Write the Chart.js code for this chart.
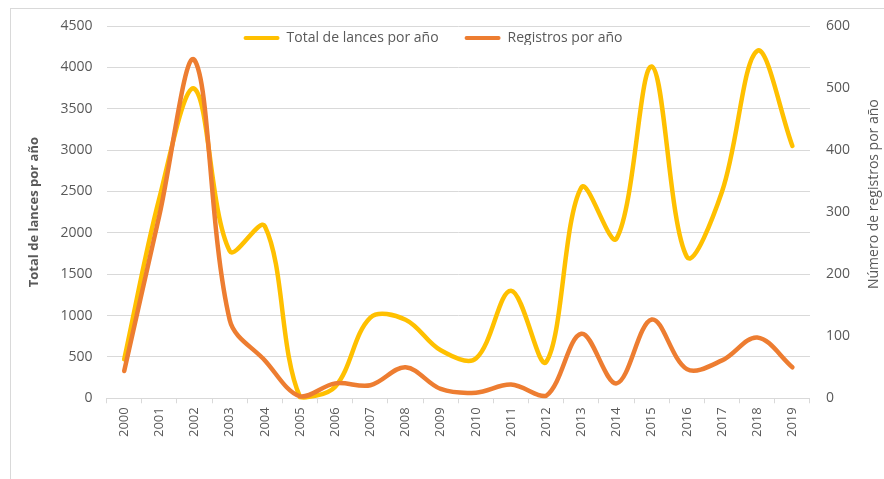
<!DOCTYPE html>
<html>
<head>
<meta charset="utf-8">
<script src="https://cdn.jsdelivr.net/npm/chart.js@4/dist/chart.umd.min.js"></script>
<style>
    body { margin: 0; overflow: hidden; background: #fff; }
    #frame {
        position: absolute; left: 10px; top: 8px; width: 1000px; height: 1000px;
        border-left: 1px solid #d9d9d9; border-top: 1px solid #d9d9d9;
    }
    #wrap { position: absolute; left: 0; top: 0; width: 884px; height: 479px; }
</style>
</head>
<body>
<div id="frame"></div>
<div id="wrap"><canvas id="chart"></canvas></div>
<script>
const years = ['2000', '2001', '2002', '2003', '2004', '2005', '2006', '2007', '2008', '2009',
               '2010', '2011', '2012', '2013', '2014', '2015', '2016', '2017', '2018', '2019'];
const totalLances = [470, 2420, 3740, 1780, 2080, 15, 140, 975, 950, 580,
                     480, 1300, 440, 2550, 1930, 4010, 1710, 2500, 4200, 3050];
const registros = [44, 295, 545, 126, 61, 3, 24, 21, 50, 15,
                   9, 22, 4, 104, 24, 127, 47, 61, 98, 50];

const leftMax = 4500, leftStep = 500;
const rightMax = 600, rightStep = 100;

const font = 'Open Sans';
const grey = '#595959';
const gridColor = '#d9d9d9';

// the legend sits inside the plot, like in the original: let it draw below its tiny layout box
const legendInside = {
    id: 'legendInside',
    beforeDraw(chart) {
        const lg = chart.legend;
        lg.height = 40;
        lg.bottom = lg.top + 40;
        lg.left -= 10;
        lg.right -= 10;
    }
};

// right axis title reads bottom-to-top, so draw it here
const rightTitle = {
    id: 'rightTitle',
    afterDraw(chart) {
        const ctx = chart.ctx;
        const area = chart.chartArea;
        ctx.save();
        ctx.translate(area.right + 64, (area.top + area.bottom) / 2 - 18);
        ctx.rotate(-Math.PI / 2);
        ctx.textAlign = 'center';
        ctx.textBaseline = 'middle';
        ctx.font = '14px "' + font + '"';
        ctx.fillStyle = grey;
        ctx.fillText('Número de registros por año', 0, 0);
        ctx.restore();
    }
};

new Chart(document.getElementById('chart').getContext('2d'), {
    type: 'line',
    data: {
        labels: years,
        datasets: [{
            label: 'Total de lances por año',
            data: totalLances,
            borderColor: '#FFC000',
            backgroundColor: '#FFC000',
            borderWidth: 4.5,
            tension: 0.35,
            pointRadius: 0,
            borderCapStyle: 'round',
            yAxisID: 'y',
            order: 1,
            clip: 6
        }, {
            label: 'Registros por año',
            data: registros,
            borderColor: '#ED7D31',
            backgroundColor: '#ED7D31',
            borderWidth: 4.5,
            tension: 0.35,
            pointRadius: 0,
            borderCapStyle: 'round',
            yAxisID: 'y1',
            order: 0,
            clip: 6
        }]
    },
    options: {
        responsive: true,
        maintainAspectRatio: false,
        animation: false,
        layout: {
            padding: { top: 5, left: 20, right: 18, bottom: 38 }
        },
        plugins: {
            legend: {
                position: 'top',
                maxHeight: 21,
                labels: {
                    boxWidth: 36,
                    boxHeight: 4,
                    padding: 26,
                    color: grey,
                    font: { family: font, size: 14 },
                    useBorderRadius: true,
                    borderRadius: 2,
                    sort: (a, b) => a.datasetIndex - b.datasetIndex,
                    generateLabels: chart => Chart.defaults.plugins.legend.labels.generateLabels(chart)
                        .map(item => Object.assign(item, { lineWidth: 0 }))
                }
            },
            tooltip: { enabled: false }
        },
        scales: {
            x: {
                offset: true,
                grid: {
                    display: true,
                    drawOnChartArea: false,
                    offset: true,
                    tickLength: 5,
                    color: gridColor
                },
                border: { color: gridColor },
                ticks: {
                    minRotation: 90,
                    maxRotation: 90,
                    padding: 4,
                    color: grey,
                    font: { family: font, size: 13 }
                }
            },
            y: {
                position: 'left',
                min: 0,
                max: leftMax,
                ticks: {
                    stepSize: leftStep,
                    padding: 14,
                    color: grey,
                    font: { family: font, size: 14 },
                    callback: v => String(v)
                },
                grid: { color: gridColor, drawTicks: false },
                border: { display: false },
                title: {
                    display: true,
                    text: 'Total de lances por año',
                    color: grey,
                    font: { family: font, size: 13, weight: 'bold' },
                    padding: { top: 6, bottom: 5 }
                }
            },
            y1: {
                position: 'right',
                min: 0,
                max: rightMax,
                ticks: {
                    stepSize: rightStep,
                    padding: 16,
                    color: grey,
                    font: { family: font, size: 14 },
                    callback: v => String(v)
                },
                grid: { drawOnChartArea: false, drawTicks: false },
                border: { display: false }
            }
        }
    },
    plugins: [legendInside, rightTitle]
});
</script>
</body>
</html>
